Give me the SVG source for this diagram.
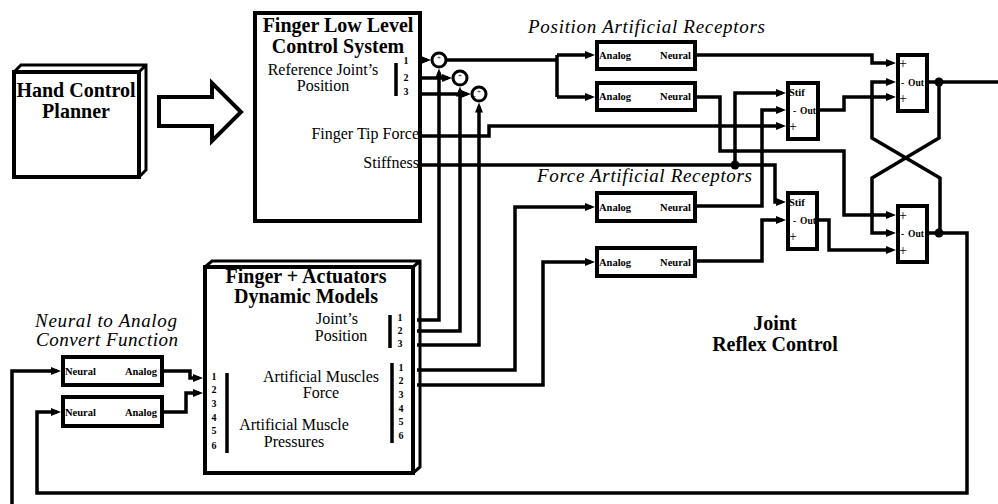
<svg xmlns="http://www.w3.org/2000/svg" width="998" height="504" viewBox="0 0 998 504" font-family="'Liberation Serif', 'Times New Roman', Times, 'DejaVu Serif', serif">
<style>
.b{fill:#fff;stroke:#000;stroke-width:4}
.w{fill:none;stroke:#000;stroke-width:3.5}
.a{marker-end:url(#ah)}
.thin{fill:none;stroke:#000;stroke-width:3}
text{font-family:'Liberation Serif','Times New Roman',Times,'DejaVu Serif',serif;fill:#000;stroke:none}
.t{font-weight:bold;font-size:20px;text-anchor:middle}
.r{font-size:16px;text-anchor:middle}
.re{font-size:16px;text-anchor:end}
.i{font-style:italic;font-size:19px}
.s{font-weight:bold;font-size:10.5px}
.se{font-weight:bold;font-size:10.5px;text-anchor:end}
.n{font-weight:bold;font-size:10px;text-anchor:middle}
.o{font-weight:bold;font-size:9.5px}
.p{font-size:14px}
.tiny{font-size:7px;text-anchor:middle}
</style>
<defs>
<marker id="ah" viewBox="0 0 10 8" refX="6" refY="4" markerWidth="10" markerHeight="8" markerUnits="userSpaceOnUse" orient="auto"><path d="M0,0L10,4L0,8z"/></marker>
</defs>
<rect width="998" height="504" fill="#fff"/>

<g id="connectors">
<path class="w a" d="M422,60H427"/>
<path class="w a" d="M422,78H448"/>
<path class="w a" d="M422,94H467"/>
<path class="w a" d="M417,320H439V72.5"/>
<path class="w a" d="M417,331H460V90.5"/>
<path class="w a" d="M417,345H479V106.5"/>
<path class="w" d="M446,60H557M557,55V97"/>
<path class="w a" d="M557,55H591"/>
<path class="w a" d="M557,97H591"/>
<path class="w a" d="M697,55H872V63H892"/>
<path class="w a" d="M697,97H720V151H844V215H892"/>
<path class="w a" d="M422,136H489V126H782"/>
<path class="w a" d="M422,165H735V93H782"/>
<path class="w a" d="M735,165H775V202H782"/>
<circle cx="735" cy="165" r="4.5"/>
<path class="w a" d="M697,206H762V110H782"/>
<path class="w a" d="M697,261H762V220H782"/>
<path class="w a" d="M820,110H844V97H892"/>
<path class="w a" d="M819,220H829V250H892"/>
<path class="w a" d="M940,233V178L872,138V82H892"/>
<path class="w a" d="M939,82V138L872,178V233H892"/>
<path class="w" d="M929,82H998"/>
<circle cx="939" cy="82" r="4.5"/>
<circle cx="939" cy="233" r="4.5"/>
<path class="w a" d="M929,233H967V493H37V412H57"/>
<path class="w a" d="M12,504V371H57"/>
<path class="w a" d="M164,371H190V378H199"/>
<path class="w a" d="M164,412H186V393H199"/>
<path class="w a" d="M417,370H515V207H591"/>
<path class="w a" d="M417,385H543V262H591"/>
</g>

<g id="hand-control-planner">
<path class="thin" d="M14,72L21,65H146V170L139,177M139,72L146,65"/>
<rect class="b" x="14" y="72" width="125" height="105"/>
<text class="t" x="76" y="97">Hand Control</text>
<text class="t" x="76" y="118">Planner</text>
</g>

<g id="planner-arrow">
<polygon class="b" points="159,97 212,97 212,83 241,112 212,141 212,126 159,126"/>
</g>

<g id="finger-low-level">
<rect class="b" x="255" y="13" width="165" height="208"/>
<text class="t" x="338" y="32">Finger Low Level</text>
<text class="t" x="338" y="53">Control System</text>
<text class="r" x="323" y="75">Reference Joint’s</text>
<text class="r" x="323" y="91">Position</text>
<line class="w" x1="396" y1="63" x2="396" y2="96"/>
<text class="n" x="406" y="64">1</text>
<text class="n" x="406" y="81">2</text>
<text class="n" x="406" y="95">3</text>
<text class="re" x="419" y="139">Finger Tip Force</text>
<text class="re" x="419" y="168">Stiffness</text>
</g>

<g id="sum-1">
<circle cx="439" cy="60" r="7" fill="#fff" stroke="#000" stroke-width="3"/>
<text class="tiny" x="439" y="60">+</text>
</g>
<g id="sum-2">
<circle cx="460" cy="78" r="7" fill="#fff" stroke="#000" stroke-width="3"/>
<text class="tiny" x="460" y="78">+</text>
</g>
<g id="sum-3">
<circle cx="479" cy="94" r="7" fill="#fff" stroke="#000" stroke-width="3"/>
<text class="tiny" x="479" y="94">+</text>
<text class="tiny" x="475" y="98">-</text>
</g>

<g id="position-receptors">
<text class="i" x="528" y="33" textLength="237" lengthAdjust="spacing">Position Artificial Receptors</text>
</g>
<g id="pos-receptor-1">
<rect class="b" x="597" y="42" width="98" height="27"/>
<text class="s" x="599" y="59">Analog</text>
<text class="se" x="691" y="59">Neural</text>
</g>
<g id="pos-receptor-2">
<rect class="b" x="597" y="83" width="98" height="27"/>
<text class="s" x="599" y="100">Analog</text>
<text class="se" x="691" y="100">Neural</text>
</g>

<g id="force-receptors">
<text class="i" x="537" y="182" textLength="215" lengthAdjust="spacing">Force Artificial Receptors</text>
</g>
<g id="force-receptor-1">
<rect class="b" x="597" y="193" width="98" height="28"/>
<text class="s" x="599" y="211">Analog</text>
<text class="se" x="691" y="211">Neural</text>
</g>
<g id="force-receptor-2">
<rect class="b" x="597" y="248" width="98" height="28"/>
<text class="s" x="599" y="266">Analog</text>
<text class="se" x="691" y="266">Neural</text>
</g>

<g id="stif-1">
<rect class="b" x="788" y="83" width="30" height="56"/>
<text class="s" x="789" y="96">Stif</text>
<text class="o" x="793" y="114">-</text>
<text class="o" x="800" y="114">Out</text>
<text class="p" x="789" y="131">+</text>
</g>
<g id="stif-2">
<rect class="b" x="788" y="193" width="29" height="56"/>
<text class="s" x="789" y="206">Stif</text>
<text class="o" x="793" y="224">-</text>
<text class="o" x="800" y="224">Out</text>
<text class="p" x="789" y="241">+</text>
</g>

<g id="summer-top">
<rect class="b" x="898" y="55" width="29" height="56"/>
<text class="p" x="899" y="68">+</text>
<text class="o" x="901" y="86">-</text>
<text class="o" x="908" y="86">Out</text>
<text class="p" x="899" y="103">+</text>
</g>
<g id="summer-bottom">
<rect class="b" x="898" y="206" width="29" height="56"/>
<text class="p" x="899" y="220">+</text>
<text class="o" x="901" y="237">-</text>
<text class="o" x="908" y="237">Out</text>
<text class="p" x="899" y="255">+</text>
</g>

<g id="joint-reflex-label">
<text class="t" x="775" y="330">Joint</text>
<text class="t" x="775" y="351">Reflex Control</text>
</g>

<g id="finger-actuators">
<path class="thin" d="M205,267L212,261H420V467L413,473M413,267L420,261"/>
<rect class="b" x="205" y="267" width="208" height="206"/>
<text class="t" x="306" y="283">Finger + Actuators</text>
<text class="t" x="306" y="303">Dynamic Models</text>
<text class="r" x="337" y="324">Joint’s</text>
<text class="r" x="341" y="341">Position</text>
<line class="w" x1="390" y1="315" x2="390" y2="348"/>
<text class="n" x="400" y="321">1</text>
<text class="n" x="400" y="334">2</text>
<text class="n" x="400" y="347">3</text>
<text class="r" x="321" y="382">Artificial Muscles</text>
<text class="r" x="321" y="398">Force</text>
<line class="w" x1="392" y1="363" x2="392" y2="443"/>
<text class="n" x="401" y="371">1</text>
<text class="n" x="401" y="384">2</text>
<text class="n" x="401" y="398">3</text>
<text class="n" x="401" y="412">4</text>
<text class="n" x="401" y="425">5</text>
<text class="n" x="401" y="439">6</text>
<text class="r" x="294" y="430">Artificial Muscle</text>
<text class="r" x="294" y="447">Pressures</text>
<line class="w" x1="227" y1="373" x2="227" y2="453"/>
<text class="n" x="214" y="380">1</text>
<text class="n" x="214" y="393">2</text>
<text class="n" x="214" y="407">3</text>
<text class="n" x="214" y="421">4</text>
<text class="n" x="214" y="434">5</text>
<text class="n" x="214" y="449">6</text>
</g>

<g id="neural-to-analog">
<text class="i" x="35" y="327" textLength="142" lengthAdjust="spacing">Neural to Analog</text>
<text class="i" x="36" y="346" textLength="142" lengthAdjust="spacing">Convert Function</text>
</g>
<g id="converter-1">
<rect class="b" x="63" y="357" width="99" height="28"/>
<text class="s" x="65" y="375">Neural</text>
<text class="se" x="157" y="375">Analog</text>
</g>
<g id="converter-2">
<rect class="b" x="63" y="397" width="99" height="29"/>
<text class="s" x="65" y="416">Neural</text>
<text class="se" x="157" y="416">Analog</text>
</g>
</svg>
